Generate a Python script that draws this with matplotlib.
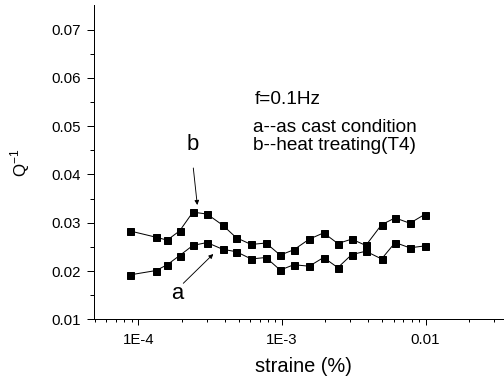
import matplotlib
matplotlib.use("Agg")
import matplotlib.pyplot as plt

plt.rcParams["font.family"] = ["Liberation Sans", "DejaVu Sans"]

# strain amplitude (%) and internal friction values
strain = [8.75e-5, 1.33e-4, 1.59e-4, 1.94e-4, 2.40e-4, 3.01e-4, 3.87e-4,
          4.81e-4, 6.11e-4, 7.74e-4, 9.73e-4, 1.21e-3, 1.55e-3, 1.95e-3,
          2.45e-3, 3.06e-3, 3.84e-3, 4.94e-3, 6.14e-3, 7.77e-3, 9.84e-3]
q_as_cast = [0.0192, 0.0201, 0.0213, 0.0232, 0.0253, 0.0259, 0.0245,
             0.0240, 0.0225, 0.0228, 0.0202, 0.0213, 0.0210, 0.0228,
             0.0207, 0.0234, 0.0241, 0.0225, 0.0259, 0.0248, 0.0252]
q_t4 = [0.0283, 0.0270, 0.0264, 0.0283, 0.0322, 0.0318, 0.0295,
        0.0269, 0.0255, 0.0258, 0.0233, 0.0244, 0.0266, 0.0279,
        0.0257, 0.0266, 0.0253, 0.0296, 0.0310, 0.0299, 0.0317]

xtick_vals = [1e-4, 1e-3, 1e-2]
xtick_labels = ["1E-4", "1E-3", "0.01"]
ytick_vals = [0.01, 0.02, 0.03, 0.04, 0.05, 0.06, 0.07]
ytick_labels = ["0.01", "0.02", "0.03", "0.04", "0.05", "0.06", "0.07"]

W, H = 504, 384
fig = plt.figure(figsize=(W / 72, H / 72), dpi=72)
# axis runs past the right edge of the picture, as in the original
ax = fig.add_axes([94 / W, 1 - 319.3 / H, 432 / W, 314.3 / H])

for q in (q_as_cast, q_t4):
    ax.plot(strain, q, color="black", lw=1, marker="s", ms=7,
            mfc="black", mec="black")

ax.set_xscale("log")
ax.set_xlim(4.92e-5, 0.05)
ax.set_ylim(0.01, 0.0751)
ax.set_xticks(xtick_vals, xtick_labels)
ax.set_yticks(ytick_vals, ytick_labels)
ax.set_yticks([0.015, 0.025, 0.035, 0.045, 0.055, 0.065], minor=True)
ax.tick_params(which="major", direction="out", width=1,
               labelsize=15, colors="black")
ax.tick_params(axis="x", which="major", length=6, pad=8)
ax.tick_params(axis="y", which="major", length=7, pad=6.5)
ax.tick_params(axis="x", which="minor", direction="out", length=3.3, width=1)
ax.tick_params(axis="y", which="minor", direction="out", length=3.7, width=1)
for s in ("top", "right"):
    ax.spines[s].set_visible(False)
for s in ("left", "bottom"):
    ax.spines[s].set_linewidth(1)

fig.text(303.7 / W, 1 - 366 / H, "straine (%)", ha="center", va="center",
         fontsize=20)
fig.text(20 / W, 1 - 163 / H, "Q$^{\\mathregular{-1}}$", rotation=90,
         ha="center", va="center", fontsize=17)

fig.text(255 / W, 1 - 99 / H, "f=0.1Hz", ha="left", va="center", fontsize=19)
fig.text(252.7 / W, 1 - 127 / H, "a--as cast condition", ha="left",
         va="center", fontsize=19)
fig.text(252.7 / W, 1 - 146 / H, "b--heat treating(T4)", ha="left",
         va="center", fontsize=19)

arrow = dict(arrowstyle="-|>", color="black", lw=0.9, mutation_scale=9,
             shrinkA=0, shrinkB=0)
fig.text(192.5 / W, 1 - 144.5 / H, "b", ha="center", va="center", fontsize=22)
ax.annotate("", xy=(197.3 / W, 1 - 205 / H), xycoords="figure fraction",
            xytext=(193.3 / W, 1 - 168 / H), textcoords="figure fraction",
            arrowprops=arrow)
fig.text(177.5 / W, 1 - 293.5 / H, "a", ha="center", va="center", fontsize=22)
ax.annotate("", xy=(213.3 / W, 1 - 254 / H), xycoords="figure fraction",
            xytext=(183.3 / W, 1 - 283.3 / H), textcoords="figure fraction",
            arrowprops=arrow)

fig.savefig("out.png", dpi=72)
